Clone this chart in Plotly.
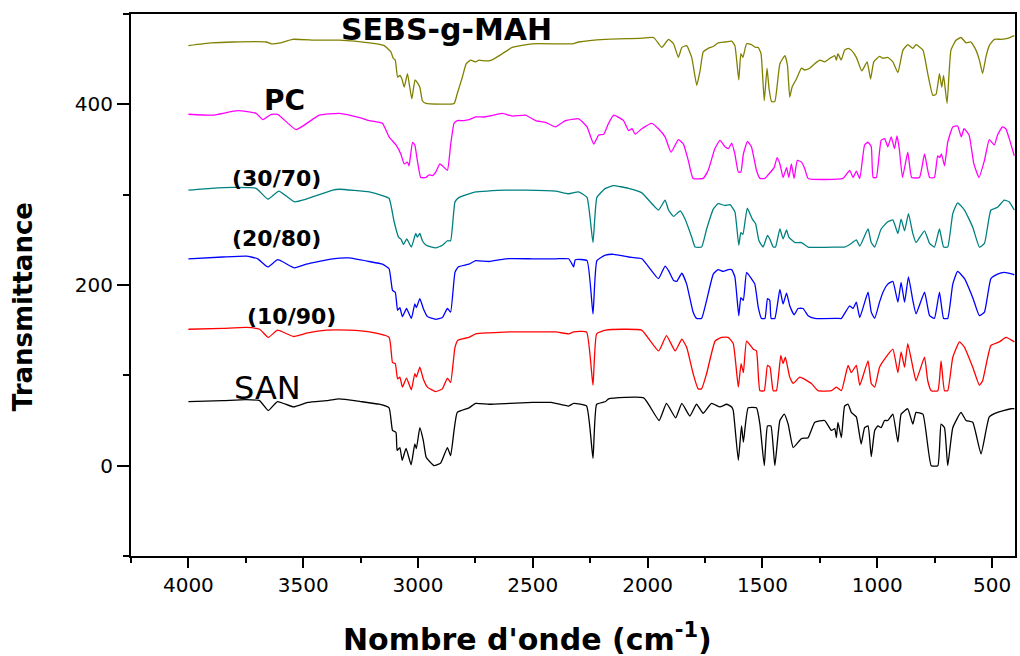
import plotly.graph_objects as go

# ---------------- data (wavenumber cm-1, transmittance offset) ----------------
san_wn = [4000,3850,3750,3690,3652,3612,3542,3480,3400,3342,3250,3169,3126,3111,3096,3091,3079,3069,3052,3030,
          3014,3007,2992,2977,2964,2930,2901,2872,2858,2843,2829,2778,2749,2691,2600,2500,2420,2344,2322,2266,
          2238,2222,2183,2170,2017,1950,1918,1878,1851,1816,1787,1758,1722,1685,1656,1634,1627,1605,1591,1583,
          1562,1526,1511,1492,1478,1463,1446,1424,1405,1388,1366,1330,1301,1272,1229,1200,1185,1178,1171,1156,
          1142,1127,1113,1091,1070,1055,1040,1026,1011,997,983,968,954,932,910,896,867,845,831,801,
          765,736,722,707,693,671,635,613,584,548,512,476,418,403]
san_t = [71,72,73,72,61,71,65,70,72,74,71,68,64,39,37,17,20,6,19,1,
         24,19,42,28,9,0,3,20,11,39,59,64,69,68,69,70,70,66,69,66,
         8,68,71,74,75,50,69,53,69,55,68,58,69,65,68,65,61,6,44,26,
         64,64,46,0,44,44,0,50,57,46,20,30,31,48,50,39,41,31,48,31,
         66,68,59,54,24,42,44,10,39,44,42,50,50,57,26,57,63,46,59,57,
         0,0,46,42,0,42,59,50,48,13,54,59,63,63]

b1090_wn = [4000,3850,3750,3690,3652,3612,3542,3480,3400,3300,3212,3126,3111,3099,3089,3079,3068,3050,3029,3014,
            3007,2992,2977,2959,2923,2894,2872,2858,2839,2825,2778,2749,2691,2600,2500,2400,2344,2322,2266,2238,
            2222,2183,2100,2026,1952,1918,1880,1851,1830,1802,1780,1765,1743,1706,1678,1649,1627,1605,1593,1583,
            1569,1540,1526,1511,1492,1478,1467,1453,1439,1420,1410,1400,1381,1366,1337,1287,1258,1200,1178,1156,
            1127,1113,1091,1076,1040,1026,1011,990,968,932,910,896,881,867,845,831,794,780,765,736,
            722,707,693,671,642,620,584,555,541,505,468,439,403]
b1090_t = [151,152,153,151,142,150,143,147,150,150,148,142,114,113,96,98,87,97,84,102,
           98,109,96,87,82,85,97,92,131,139,142,146,147,148,148,148,146,148,148,89,
           146,150,151,150,127,144,127,140,131,102,85,85,102,138,142,142,135,87,113,103,
           138,129,127,83,83,111,109,83,83,122,113,120,98,91,98,91,83,83,87,83,
           111,103,111,89,116,91,87,109,118,129,103,126,109,135,109,94,120,94,83,83,
           116,83,83,120,137,131,109,89,94,133,137,142,137]

b2080_wn = [4000,3850,3748,3698,3654,3611,3538,3487,3372,3300,3212,3155,3126,3111,3099,3089,3079,3068,3050,3029,
            3014,3007,2992,2977,2959,2923,2894,2872,2858,2839,2825,2778,2749,2691,2619,2500,2400,2344,2329,2322,
            2315,2264,2238,2221,2184,2148,2083,2025,1953,1924,1909,1887,1873,1851,1830,1802,1787,1765,1743,1714,
            1693,1671,1649,1634,1620,1603,1594,1583,1569,1548,1533,1518,1504,1489,1478,1468,1462,1446,1424,1410,
            1395,1381,1362,1345,1323,1301,1272,1171,1156,1120,1105,1091,1076,1040,1026,1011,990,975,954,932,
            910,896,881,864,845,831,794,772,751,729,711,693,671,650,620,584,555,533,505,476,
            447,410,403]
b2080_t = [229,231,232,229,220,228,219,223,229,230,226,223,218,194,192,172,175,165,174,163,
           179,175,185,174,165,162,164,174,170,214,220,223,227,226,229,229,229,229,223,220,
           228,227,168,227,233,234,231,229,207,221,216,205,204,213,201,170,163,163,183,212,
           217,215,217,217,209,166,186,183,214,207,201,175,163,163,185,183,163,163,195,179,
           191,177,167,174,174,166,163,163,163,177,174,181,164,192,170,163,181,192,201,204,
           181,203,181,209,183,168,192,166,163,192,163,163,201,215,207,186,166,170,207,212,
           214,212,211]

b3070_wn = [4000,3900,3806,3705,3654,3606,3538,3487,3372,3343,3212,3155,3126,3104,3085,3075,3063,3049,3029,3010,
            3003,2992,2981,2964,2923,2894,2872,2858,2839,2821,2778,2749,2699,2619,2532,2401,2344,2300,2264,2238,
            2221,2184,2148,2083,2025,1953,1924,1909,1887,1858,1837,1808,1793,1765,1743,1714,1693,1663,1641,1620,
            1603,1594,1585,1566,1544,1530,1515,1497,1478,1468,1453,1443,1424,1410,1395,1385,1358,1330,1301,1171,
            1142,1113,1091,1076,1040,1026,1011,983,954,932,910,896,881,864,845,831,794,772,751,729,
            711,693,671,650,620,584,555,533,505,476,447,425,403]
b3070_t = [305,307,308,307,295,304,292,295,305,306,303,299,296,270,253,251,245,251,242,257,
           253,257,249,244,241,244,249,249,292,297,301,303,304,305,305,304,301,303,297,247,
           297,307,310,307,302,283,294,283,276,282,273,253,242,242,262,284,290,288,289,281,
           244,258,256,285,273,268,249,242,255,251,242,242,262,251,261,253,247,247,242,242,
           242,246,250,243,262,247,242,262,270,272,257,273,260,279,257,247,260,246,242,262,
           242,242,279,291,283,264,242,246,283,286,294,292,283]

pc_wn = [4000,3893,3785,3705,3676,3639,3611,3531,3430,3343,3250,3212,3155,3126,3096,3075,3060,3046,3039,3024,
         3014,3003,2988,2966,2952,2937,2923,2905,2894,2872,2858,2843,2829,2800,2778,2749,2713,2691,2633,2590,
         2532,2488,2445,2401,2358,2300,2264,2235,2213,2191,2170,2148,2105,2083,2068,2054,2025,1982,1953,1924,
         1898,1866,1844,1823,1802,1758,1736,1707,1685,1663,1648,1634,1620,1605,1594,1583,1565,1548,1526,1511,
         1489,1475,1449,1436,1424,1410,1395,1385,1374,1362,1348,1330,1316,1301,1149,1120,1105,1091,1076,1055,
         1040,1026,1018,1004,983,968,954,939,925,914,904,890,867,850,816,794,772,751,737,728,
         720,707,693,671,650,634,622,600,579,557,533,512,490,476,455,440,425,403]
pc_t = [389,388,393,390,383,389,389,372,388,390,385,382,379,364,355,345,334,336,332,358,
        355,338,319,319,322,321,325,334,332,327,355,379,382,382,383,386,386,387,390,387,
        388,382,380,375,382,384,375,356,366,367,379,388,382,371,373,367,373,379,373,364,
        347,361,356,338,318,318,327,351,360,353,351,357,345,325,325,345,359,353,327,318,
        318,322,330,341,334,319,330,319,334,318,338,336,329,318,318,327,319,326,318,355,
        358,353,319,319,360,362,353,364,351,365,351,319,347,319,319,345,319,319,343,341,
        345,332,358,375,376,364,373,366,334,319,338,361,355,366,375,373,362,343]

sebs_wn = [4000,3900,3806,3661,3639,3600,3546,3444,3343,3212,3147,3118,3108,3099,3089,3079,3070,3060,3046,3036,
           3027,3013,3003,2992,2981,2966,2843,2829,2807,2790,2771,2749,2735,2705,2680,2633,2590,2503,2329,2300,
           2184,2040,1974,1938,1909,1887,1866,1851,1830,1808,1786,1771,1758,1736,1714,1693,1663,1634,1620,1603,
           1594,1585,1569,1548,1530,1518,1506,1492,1480,1471,1460,1446,1424,1402,1391,1381,1371,1352,1330,1316,
           1294,1272,1250,1229,1200,1185,1178,1171,1157,1142,1127,1113,1091,1067,1044,1029,1015,990,975,954,
           932,910,888,867,845,831,801,780,758,744,729,719,711,696,679,657,635,613,592,570,
           555,541,527,512,490,461,432,403]
sebs_t = [465,468,469,469,467,468,472,471,471,468,465,458,451,449,430,432,428,419,434,419,
          406,427,424,419,404,401,401,412,430,445,449,447,449,448,449,456,463,467,467,469,
          472,473,474,463,472,467,452,463,465,452,421,438,458,462,464,468,469,470,465,427,
          456,452,467,466,463,463,456,404,440,417,403,403,445,454,443,408,419,428,440,438,
          440,445,449,447,452,454,449,456,449,460,462,460,452,437,447,428,447,453,451,452,
          447,435,460,466,462,466,460,434,410,411,434,419,432,401,460,471,474,468,469,460,
          449,434,452,465,472,472,473,476]

series = [
    ("SAN", san_wn, san_t, "#000000"),
    ("(10/90)", b1090_wn, b1090_t, "#FF0000"),
    ("(20/80)", b2080_wn, b2080_t, "#0000FF"),
    ("(30/70)", b3070_wn, b3070_t, "#008080"),
    ("PC", pc_wn, pc_t, "#FF00FF"),
    ("SEBS-g-MAH", sebs_wn, sebs_t, "#808000"),
]

# curve labels: (text, x wavenumber, y value, bold, size)
labels = [
    ("SEBS-g-MAH", 2878, 483, True, 30),
    ("PC", 3583, 404, True, 28),
    ("(30/70)", 3616, 318, True, 22),
    ("(20/80)", 3616, 252, True, 22),
    ("(10/90)", 3549, 165, True, 22),
    ("SAN", 3656, 86, False, 32),
]

FONT = "DejaVu Sans"

fig = go.Figure()
for name, wn, t, col in series:
    fig.add_trace(go.Scatter(x=wn, y=t, mode="lines", name=name,
                             line=dict(color=col, width=1.3, shape="spline", smoothing=0.4),
                             showlegend=False, hoverinfo="skip"))

for text, x, y, bold, size in labels:
    fig.add_annotation(x=x, y=y, xref="x", yref="y",
                       text=("<b>%s</b>" % text) if bold else text,
                       showarrow=False, xanchor="center", yanchor="middle",
                       font=dict(family=FONT, size=size, color="black"))

fig.add_annotation(x=-0.1219, y=0.4594, xref="paper", yref="paper",
                   text="<b>Transmittance</b>", textangle=-90, showarrow=False,
                   xanchor="center", yanchor="middle",
                   font=dict(family=FONT, size=26, color="black"))
fig.add_annotation(x=0.448, y=-0.151, xref="paper", yref="paper",
                   text="<b>Nombre d'onde (cm<sup>-1</sup>)</b>", showarrow=False,
                   xanchor="center", yanchor="middle",
                   font=dict(family=FONT, size=30, color="black"))

fig.update_layout(
    width=1020, height=656, autosize=False,
    margin=dict(l=131, r=3, t=14, b=100, pad=0),
    paper_bgcolor="white", plot_bgcolor="white",
    font=dict(family=FONT, color="black"),
)
fig.update_xaxes(range=[4250, 400], tick0=0, dtick=500, ticks="outside", ticklen=10, tickwidth=2,
                 tickcolor="black", showline=True, linewidth=2, linecolor="black", mirror=True,
                 showgrid=False, zeroline=False, tickfont=dict(family=FONT, size=20, color="black"),
                 minor=dict(dtick=250, ticks="outside", ticklen=5, tickwidth=2, tickcolor="black"))
fig.update_yaxes(range=[-100, 500], tick0=0, dtick=200, ticks="outside", ticklen=12, tickwidth=2,
                 tickcolor="black", showline=True, linewidth=2, linecolor="black", mirror=True,
                 showgrid=False, zeroline=False, tickfont=dict(family=FONT, size=20, color="black"),
                 minor=dict(dtick=100, ticks="outside", ticklen=6, tickwidth=2, tickcolor="black"))

fig.write_html("out.html")
